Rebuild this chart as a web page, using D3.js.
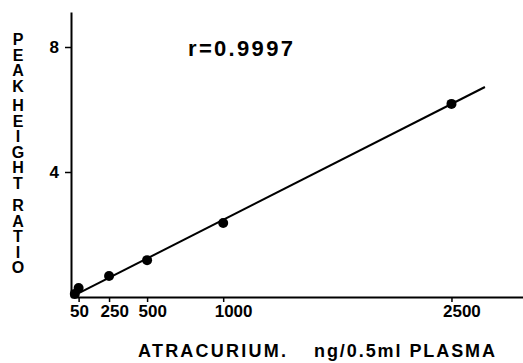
<!DOCTYPE html>
<html lang="en">
  <head>
    <meta charset="UTF-8" />
    <title>Atracurium calibration</title>
    <style>
      * {
        margin: 0;
        padding: 0;
      }
      body {
        background-color: #fff;
      }
      text {
        font-family: "Liberation Sans", Arial, sans-serif;
        font-weight: bold;
        fill: #000;
      }
      .vt {
        writing-mode: vertical-rl;
        text-orientation: upright;
        letter-spacing: -1.4px;
      }
    </style>
  </head>
  <body>
    <script src="https://cdn.jsdelivr.net/npm/d3@7"></script>
    <script>
      // data
      const concs = [25, 50, 250, 500, 1000, 2500];
      const ratios = [0.1, 0.29, 0.67, 1.18, 2.37, 6.18];
      const fitX = [25, 2720];
      const fitY = [0.06, 6.72];
      const xTicks = [50, 250, 500, 1000, 2500];
      const yTicks = [4, 8];
      const yTitle = ["PEAK", "HEIGHT", "RATIO"];
      const xTitle = ["ATRACURIUM.", "ng/0.5ml PLASMA"];
      const rLabel = "r=0.9997";

      const W = 523,
        H = 363;
      const svg = d3.select("body").append("svg").attr("width", W).attr("height", H);

      const x = d3.scaleLinear().domain([0, 2970]).range([71, 523]);
      const y = d3.scaleLinear().domain([0, 9.12]).range([297, 12]);

      // x axis
      const xAxis = svg
        .append("g")
        .attr("transform", "translate(0,297)")
        .call(d3.axisBottom(x).tickValues(xTicks).tickSize(5).tickSizeOuter(0).tickFormat(d3.format("d")));
      xAxis.select(".domain").attr("stroke-width", 2);
      xAxis.selectAll(".tick line").attr("stroke-width", 1.5);
      xAxis
        .selectAll(".tick text")
        .attr("font-size", 17)
        .attr("text-anchor", "start")
        .attr("dx", -9)
        .attr("y", 8);

      // y axis
      const yAxis = svg
        .append("g")
        .attr("transform", "translate(71,0)")
        .call(d3.axisLeft(y).tickValues(yTicks).tickSize(6).tickSizeOuter(0));
      yAxis.select(".domain").attr("stroke-width", 2);
      yAxis.selectAll(".tick line").attr("stroke-width", 1.5);
      yAxis.selectAll(".tick text").attr("font-size", 17).attr("x", -12);
      svg.selectAll(".domain, .tick line").attr("stroke", "#000");

      // fitted line
      svg
        .append("path")
        .datum(fitX.map((d, i) => [d, fitY[i]]))
        .attr("fill", "none")
        .attr("stroke", "#000")
        .attr("stroke-width", 2)
        .attr("d", d3.line().x((d) => x(d[0])).y((d) => y(d[1])));

      // points
      svg
        .selectAll("circle.pt")
        .data(concs)
        .enter()
        .append("circle")
        .attr("class", "pt")
        .attr("cx", (d) => x(d))
        .attr("cy", (d, i) => y(ratios[i]))
        .attr("r", 5)
        .attr("fill", "#000");

      // r value
      svg
        .append("text")
        .attr("x", 188)
        .attr("y", 56)
        .attr("font-size", 22)
        .attr("font-weight", "600")
        .attr("textLength", 105)
        .attr("lengthAdjust", "spacing")
        .text(rLabel);

      // stacked y title, one word per text
      const wordTops = [31, 97, 197];
      yTitle.forEach((w, i) => {
        svg.append("text").attr("class", "vt").attr("x", 18).attr("y", wordTops[i]).attr("font-size", 16).text(w);
      });

      // x title
      svg.append("text").attr("x", 138).attr("y", 357).attr("font-size", 18).attr("textLength", 148).text(xTitle[0]);
      svg.append("text").attr("x", 314).attr("y", 357).attr("font-size", 18).attr("textLength", 181).text(xTitle[1]);
    </script>
  </body>
</html>
